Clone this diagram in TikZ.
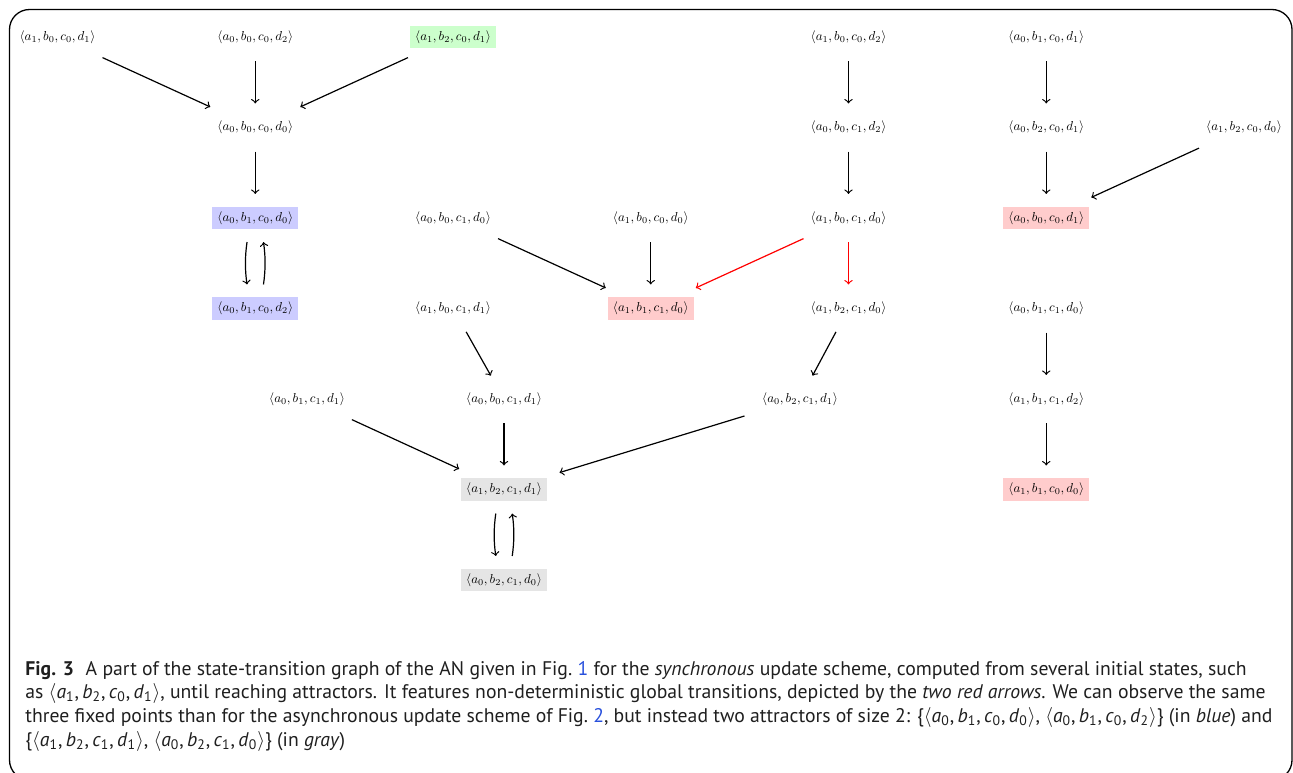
\documentclass[tikz,border=0pt]{standalone}
\usepackage{amsmath}
\usepackage{amssymb}
\usepackage{graphicx}
\usepackage{fontspec}
\newfontfamily\capfont{PT Sans}
\usepackage{tikz}

\definecolor{linkblue}{RGB}{40,80,220}
\newcommand{\sv}[4]{\scalebox{0.65}{$\langle a_{#1},b_{#2},c_{#3},d_{#4}\rangle$}}
\newcommand{\csv}[4]{$\langle$\textit{a}\textsubscript{#1},\,\textit{b}\textsubscript{#2},\,\textit{c}\textsubscript{#3},\,\textit{d}\textsubscript{#4}$\rangle$}

\begin{document}
\begin{tikzpicture}[x=0.5pt, y=-0.5pt,
  state/.style={inner xsep=2.6pt, inner ysep=2.4pt, outer sep=3.4pt},
  tr/.style={->, line width=0.6pt, shorten >=3pt, shorten <=3pt},
  captionline/.style={font=\capfont\fontsize{9.85}{12}\selectfont, text=black!88, inner sep=0pt, anchor=base west}]
\useasboundingbox (0,0) rectangle (1293,772);
\draw[line width=0.65pt, rounded corners=10pt] (9.5,9.5) rectangle (1292,780);

\node[state] (s1001) at (57.5,37) {\sv1001};
\node[state] (s0002) at (255.25,37) {\sv0002};
\node[state, fill=green!20] (s1201) at (453,37) {\sv1201};
\node[state] (s1002) at (848.5,37) {\sv1002};
\node[state] (s0101) at (1046.25,37) {\sv0101};
\node[state] (s0000) at (255.25,127.5) {\sv0000};
\node[state] (s0012) at (848.5,127.5) {\sv0012};
\node[state] (s0201) at (1046.25,127.5) {\sv0201};
\node[state] (s1200) at (1244,127.5) {\sv1200};
\node[state, fill=blue!20] (s0100) at (255.25,218) {\sv0100};
\node[state] (s0010) at (453,218) {\sv0010};
\node[state] (s1000) at (650.75,218) {\sv1000};
\node[state] (s1010) at (848.5,218) {\sv1010};
\node[state, fill=red!20] (s0001) at (1046.25,218) {\sv0001};
\node[state, fill=blue!20] (s0102) at (255.25,308.5) {\sv0102};
\node[state] (s1011) at (453,308.5) {\sv1011};
\node[state, fill=red!20] (s1110) at (650.75,308.5) {\sv1110};
\node[state] (s1210) at (848.5,308.5) {\sv1210};
\node[state] (s0110) at (1046.25,308.5) {\sv0110};
\node[state] (s0111) at (307,399) {\sv0111};
\node[state] (s0011) at (504,399) {\sv0011};
\node[state] (s0211) at (800,399) {\sv0211};
\node[state] (s1112) at (1046.25,399) {\sv1112};
\node[state, fill=gray!20] (s1211) at (504,489.5) {\sv1211};
\node[state, fill=red!20] (s1100) at (1046.25,489.5) {\sv1100};
\node[state, fill=gray!20] (s0210) at (504,580) {\sv0210};

\draw[tr] (s1001) -- (s0000);
\draw[tr] (s0002) -- (s0000);
\draw[tr] (s1201) -- (s0000);
\draw[tr] (s0000) -- (s0100);
\draw[tr] ([xshift=-3.7pt]s0100.south) to[bend right=8] ([xshift=-3.7pt]s0102.north);
\draw[tr] ([xshift=3.7pt]s0102.north) to[bend right=8] ([xshift=3.7pt]s0100.south);
\draw[tr] (s0010) -- (s1110);
\draw[tr] (s1000) -- (s1110);
\draw[tr, red] (s1010) -- (s1110);
\draw[tr, red] (s1010) -- (s1210);
\draw[tr] (s1002) -- (s0012);
\draw[tr] (s0012) -- (s1010);
\draw[tr] (s0101) -- (s0201);
\draw[tr] (s0201) -- (s0001);
\draw[tr] (s1200) -- (s0001);
\draw[tr] (s1011) -- (s0011);
\draw[tr] (s1210) -- (s0211);
\draw[tr] (s0111) -- (s1211);
\draw[tr] (s0011) -- (s1211);
\draw[tr] (s0211) -- (s1211);
\draw[tr] ([xshift=-3.7pt]s1211.south) to[bend right=8] ([xshift=-3.7pt]s0210.north);
\draw[tr] ([xshift=3.7pt]s0210.north) to[bend right=8] ([xshift=3.7pt]s1211.south);
\draw[tr] (s0110) -- (s1112);
\draw[tr] (s1112) -- (s1100);

\node[captionline] (cap1) at (25,675) {\textbf{Fig. 3}\hspace{0.6em}A part of the state-transition graph of the AN given in Fig.~\textcolor{linkblue}{1} for the \textit{synchronous} update scheme, computed from several initial states, such};
\node[captionline] (cap2) at (25,698.7) {as \csv1201, until reaching attractors. It features non-deterministic global transitions, depicted by the \textit{two red arrows}. We can observe the same};
\node[captionline] (cap3) at (25,722.4) {three fixed points than for the asynchronous update scheme of Fig.~\textcolor{linkblue}{2}, but instead two attractors of size 2: \{\csv0100, \csv0102\} (in \textit{blue}) and};
\node[captionline] (cap4) at (25,746) {\{\csv1211, \csv0210\} (in \textit{gray})};
\end{tikzpicture}
\end{document}
